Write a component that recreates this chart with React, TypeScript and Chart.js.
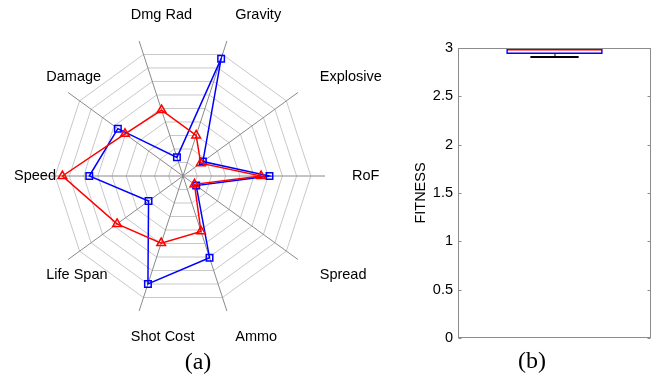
import React, { useEffect, useRef } from "react";
import { Chart, registerables } from "chart.js";

Chart.register(...registerables);

// ---- Radar data (a) ----
const radarLabels = ["Gravity", "Explosive", "RoF", "Spread", "Ammo", "Shot Cost", "Life Span", "Speed", "Damage", "Dmg Rad"];
const blueValues = [8.69, 1.73, 6.09, 1.15, 6.05, 7.99, 3.0, 6.6, 5.67, 1.38];
const redValues = [3.0, 1.54, 5.5, 1.0, 4.1, 4.97, 5.74, 8.49, 5.05, 4.88];
const radarMax = 10;
const radarOuterRing = 9;

// ---- Box plot data (b) ----
const boxCategories = [""];
const q1Values = [2.938];
const q3Values = [3.0];
const medianValues = [2.982];
const lowerWhiskerValues = [2.907];
const upperWhiskerValues = [3.0];

const SANS = '"Liberation Sans", Arial, Helvetica, sans-serif';
const LABEL_RADIUS_FRACTION = 1.19;

const radarLabelPlugin = {
  id: "radarLabels",
  afterDraw(chart: any) {
    const scale = chart.scales.r;
    const ctx = chart.ctx;
    ctx.save();
    ctx.font = `14.5px ${SANS}`;
    ctx.fillStyle = "#000";
    ctx.textAlign = "left";
    ctx.textBaseline = "middle";
    const dist = scale.drawingArea * LABEL_RADIUS_FRACTION;
    (chart.data.labels as string[]).forEach((lab, i) => {
      const p = scale.getPointPosition(i, dist);
      ctx.fillText(lab, p.x, p.y);
    });
    ctx.restore();
  },
};

const boxPlugin = {
  id: "boxExtras",
  beforeDatasetsDraw(chart: any) {
    const ctx = chart.ctx;
    const y = chart.scales.y;
    const meta = chart.getDatasetMeta(0);
    meta.data.forEach((bar: any, i: number) => {
      const x = bar.x;
      const w = bar.width;
      ctx.save();
      ctx.strokeStyle = "#000";
      ctx.lineWidth = 1;
      ctx.setLineDash([3, 2]);
      ctx.beginPath();
      ctx.moveTo(x + 0.5, y.getPixelForValue(q1Values[i]));
      ctx.lineTo(x + 0.5, y.getPixelForValue(lowerWhiskerValues[i]));
      ctx.moveTo(x + 0.5, y.getPixelForValue(q3Values[i]));
      ctx.lineTo(x + 0.5, y.getPixelForValue(upperWhiskerValues[i]));
      ctx.stroke();
      ctx.setLineDash([]);
      ctx.lineWidth = 2;
      ctx.beginPath();
      const yl = y.getPixelForValue(lowerWhiskerValues[i]);
      const yu = y.getPixelForValue(upperWhiskerValues[i]);
      ctx.moveTo(x - w / 4, yl);
      ctx.lineTo(x + w / 4, yl);
      ctx.moveTo(x - w / 4, yu + 1);
      ctx.lineTo(x + w / 4, yu + 1);
      ctx.stroke();
      ctx.strokeStyle = "#ff0000";
      ctx.lineWidth = 1.5;
      const ym = y.getPixelForValue(medianValues[i]);
      ctx.beginPath();
      ctx.moveTo(x - w / 2 + 1, ym);
      ctx.lineTo(x + w / 2 - 1, ym);
      ctx.stroke();
      ctx.restore();
    });
  },
  afterDraw(chart: any) {
    const ctx = chart.ctx;
    const a = chart.chartArea;
    const y = chart.scales.y;
    ctx.save();
    ctx.strokeStyle = "#8c8c8c";
    ctx.lineWidth = 1;
    const l = Math.round(a.left) + 0.5;
    const r = Math.round(a.right) - 0.5;
    const t = Math.round(a.top) + 0.5;
    const b = Math.round(a.bottom) - 0.5;
    ctx.strokeRect(l, t, r - l, b - t);
    ctx.beginPath();
    y.ticks.forEach((tk: any) => {
      const py = Math.round(y.getPixelForValue(tk.value)) + 0.5;
      ctx.moveTo(l, py);
      ctx.lineTo(l + 3, py);
      ctx.moveTo(r, py);
      ctx.lineTo(r - 3, py);
    });
    ctx.stroke();
    ctx.restore();
  },
};

export default function App() {
  const radarRef = useRef<HTMLCanvasElement>(null);
  const boxRef = useRef<HTMLCanvasElement>(null);

  useEffect(() => {
    const radar = new Chart(radarRef.current as HTMLCanvasElement, {
      type: "radar",
      data: {
        labels: radarLabels,
        datasets: [
          {
            label: "red",
            data: redValues,
            borderColor: "#ff0000",
            borderWidth: 1.5,
            backgroundColor: "rgba(0,0,0,0)",
            fill: false,
            tension: 0,
            pointStyle: "triangle",
            pointRadius: 5,
            pointBorderWidth: 1.5,
            pointBorderColor: "#ff0000",
            pointBackgroundColor: "rgba(0,0,0,0)",
          },
          {
            label: "blue",
            data: blueValues,
            borderColor: "#0000ff",
            borderWidth: 1.5,
            backgroundColor: "rgba(0,0,0,0)",
            fill: false,
            tension: 0,
            pointStyle: "rect",
            pointRadius: 4.6,
            pointBorderWidth: 1.5,
            pointBorderColor: "#0000ff",
            pointBackgroundColor: "rgba(0,0,0,0)",
          },
        ],
      },
      options: {
        responsive: false,
        animation: false,
        devicePixelRatio: 1,
        layout: { padding: { left: 41, right: 75, top: 34, bottom: 59 } },
        plugins: { legend: { display: false }, tooltip: { enabled: false } },
        scales: {
          r: {
            min: 0,
            max: radarMax,
            startAngle: 18,
            ticks: { display: false, stepSize: 1 },
            grid: {
              circular: false,
              lineWidth: 1,
              color: (c: any) => (c.tick && c.tick.value > radarOuterRing ? "rgba(0,0,0,0)" : "#c8c8c8"),
            },
            angleLines: { display: true, color: "#8a8a8a", lineWidth: 1 },
            pointLabels: { display: false },
          },
        },
      } as any,
      plugins: [radarLabelPlugin],
    });

    const box = new Chart(boxRef.current as HTMLCanvasElement, {
      type: "bar",
      data: {
        labels: boxCategories,
        datasets: [
          {
            label: "box",
            data: q1Values.map((q1, i) => [q1, q3Values[i]]) as any,
            borderColor: "#0000ff",
            borderWidth: 1.6,
            borderSkipped: false,
            backgroundColor: "rgba(0,0,0,0)",
            barPercentage: 0.5,
            categoryPercentage: 1,
          },
        ],
      },
      options: {
        responsive: false,
        animation: false,
        devicePixelRatio: 1,
        layout: { padding: { left: 0, right: 12, top: 48, bottom: 39 } },
        plugins: { legend: { display: false }, tooltip: { enabled: false } },
        scales: {
          x: { display: false },
          y: {
            min: 0,
            max: 3,
            ticks: {
              stepSize: 0.5,
              color: "#000",
              padding: 5,
              font: { family: SANS, size: 14.5 },
              callback: (v: any) => String(Number(v)),
            },
            grid: { display: true, drawOnChartArea: false, drawTicks: false },
            border: { display: false },
            title: {
              display: true,
              text: "FITNESS",
              color: "#000",
              font: { family: SANS, size: 14.5 },
              padding: { top: 12, bottom: 0 },
            },
            afterFit: (s: any) => {
              s.width = 58;
            },
          },
        },
      } as any,
      plugins: [boxPlugin],
    });

    return () => {
      radar.destroy();
      box.destroy();
    };
  }, []);

  const capStyle: React.CSSProperties = {
    position: "absolute",
    width: 60,
    height: 30,
    lineHeight: "30px",
    textAlign: "center",
    fontFamily: '"Liberation Serif", "Times New Roman", serif',
    fontSize: 24,
    color: "#000",
  };

  return (
    <div style={{ position: "absolute", left: 0, top: 0, width: 663, height: 377, background: "#fff", overflow: "hidden" }}>
      <canvas ref={radarRef} width={400} height={377} style={{ position: "absolute", left: 0, top: 0 }} />
      <canvas ref={boxRef} width={263} height={377} style={{ position: "absolute", left: 400, top: 0 }} />
      <div style={{ ...capStyle, left: 168, top: 346 }}>(a)</div>
      <div style={{ ...capStyle, left: 502, top: 345 }}>(b)</div>
    </div>
  );
}
